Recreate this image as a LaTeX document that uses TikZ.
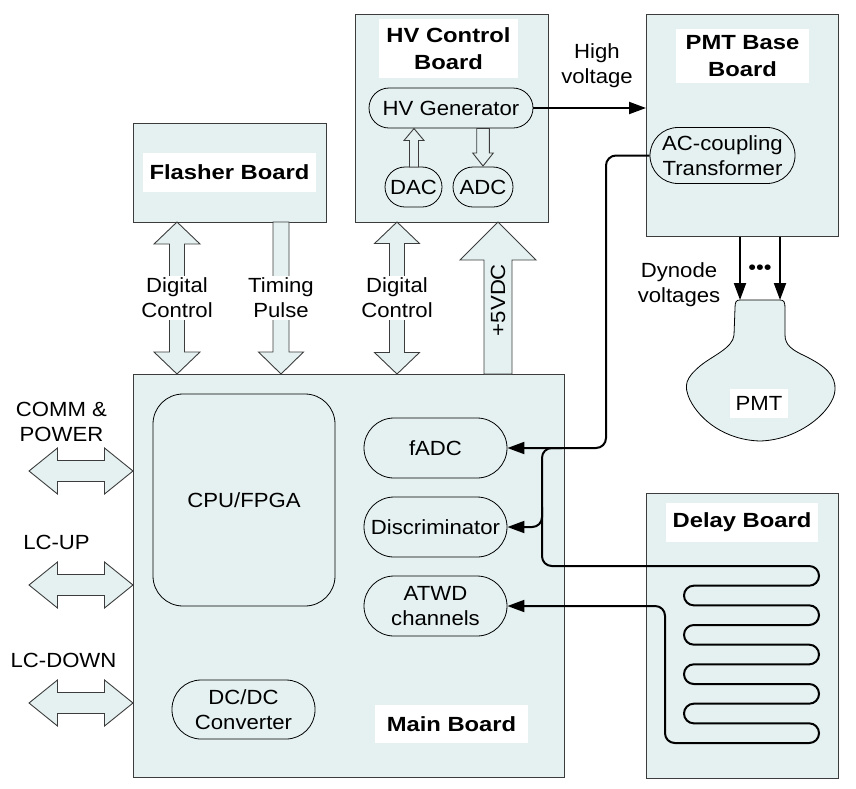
\documentclass[tikz,border=0pt]{standalone}
\usepackage{fontspec}
\setmainfont{Liberation Sans}[FakeStretch=1.08]
\newfontfamily\titlefont{Liberation Sans}[FakeStretch=1.16]
\usetikzlibrary{arrows.meta,calc}
\definecolor{boardfill}{RGB}{229,241,241}
\definecolor{edgegray}{RGB}{60,60,60}

% vertical double block arrow: x, ytop, ybottom, half shaft, half head, head length
\newcommand\blkvdouble[6]{%
\draw[blockarrow] (#1,#2) -- ({#1+#5},{#2+#6}) -- ({#1+#4},{#2+#6}) -- ({#1+#4},{#3-#6}) -- ({#1+#5},{#3-#6}) -- (#1,#3) -- ({#1-#5},{#3-#6}) -- ({#1-#4},{#3-#6}) -- ({#1-#4},{#2+#6}) -- ({#1-#5},{#2+#6}) -- cycle;}
% vertical single block arrow: x, ytail, ytip, half shaft, half head, signed head length
\newcommand\blkvsingle[6]{%
\draw[blockarrow] ({#1-#4},#2) -- ({#1-#4},{#3-(#6)}) -- ({#1-#5},{#3-(#6)}) -- (#1,#3) -- ({#1+#5},{#3-(#6)}) -- ({#1+#4},{#3-(#6)}) -- ({#1+#4},#2) -- cycle;}
% horizontal double block arrow: y, xleft, xright, half shaft, half head, head length
\newcommand\blkhdouble[6]{%
\draw[blockarrow] (#2,#1) -- ({#2+#6},{#1-#5}) -- ({#2+#6},{#1-#4}) -- ({#3-#6},{#1-#4}) -- ({#3-#6},{#1-#5}) -- (#3,#1) -- ({#3-#6},{#1+#5}) -- ({#3-#6},{#1+#4}) -- ({#2+#6},{#1+#4}) -- ({#2+#6},{#1+#5}) -- cycle;}

\begin{document}
\begin{tikzpicture}[x=1pt,y=-1pt,
  every node/.style={font=\fontsize{20.5}{25}\selectfont, align=center, inner sep=0pt},
  board/.style={draw=edgegray, line width=1.2pt, fill=boardfill, anchor=north west, rectangle},
  boardtitle/.style={fill=white, font=\titlefont\fontsize{20.5}{27}\selectfont\bfseries},
  unit/.style={draw=black, line width=0.8pt, fill=boardfill, rectangle},
  blockarrow/.style={draw=edgegray, line width=0.9pt, fill=boardfill, line join=miter},
  sig/.style={draw=black, line width=2pt},
  tip/.style={-{Triangle[length=17pt,width=12pt]}},
  lbl/.style={fill=white, inner sep=2pt}
]
\useasboundingbox (0,0) rectangle (856,788);

% ---- boards ----
\node[board, minimum width=431pt, minimum height=403pt] (main) at (133,374) {};
\node[board, minimum width=193pt, minimum height=99pt] (flasher) at (133,123) {};
\node[board, minimum width=193pt, minimum height=208pt] (hv) at (355,14) {};
\node[board, minimum width=192pt, minimum height=222pt] (pmtbase) at (646,14) {};
\node[board, minimum width=192pt, minimum height=285pt] (delay) at (646,493) {};

% ---- board titles ----
\node[boardtitle, minimum width=173pt, minimum height=39pt] (flashertitle) at (229.5,172.5) {Flasher Board};
\node[boardtitle, minimum width=139pt, minimum height=59pt] (hvtitle) at (448.5,48.5) {HV Control\\Board};
\node[boardtitle, minimum width=133pt, minimum height=54pt] (pmttitle) at (742.5,56) {PMT Base\\Board};
\node[boardtitle, minimum width=152pt, minimum height=39pt] (delaytitle) at (742,522.5) {Delay Board};
\node[boardtitle, minimum width=153pt, minimum height=38pt] (maintitle) at (451.5,724) {Main Board};

% ---- units ----
\node[unit, rounded corners=20pt, minimum width=164pt, minimum height=40pt] (hvgen) at (451,108) {HV Generator};
\node[unit, rounded corners=20pt, minimum width=57pt, minimum height=40pt] (dac) at (413.5,187) {DAC};
\node[unit, rounded corners=20pt, minimum width=60pt, minimum height=40pt] (adc) at (483,187) {ADC};
\node[unit, rounded corners=28pt, minimum width=145pt, minimum height=56pt] (ac) at (722.5,155.5) {AC-coupling\\Transformer};
\node[unit, rounded corners=30pt, minimum width=143pt, minimum height=60pt] (fadc) at (435.5,448) {fADC};
\node[unit, rounded corners=30pt, minimum width=143pt, minimum height=60pt] (disc) at (435.5,527) {Discriminator};
\node[unit, rounded corners=30pt, minimum width=143pt, minimum height=60pt] (atwd) at (435.5,606) {ATWD\\channels};
\node[unit, rounded corners=29pt, minimum width=143pt, minimum height=59pt] (dcdc) at (243.5,709.5) {DC/DC\\Converter};
\node[unit, rounded corners=30pt, minimum width=182pt, minimum height=212pt] (cpu) at (244,500) {CPU/FPGA};

% ---- small hollow arrows in HV board ----
\blkvsingle{414}{167}{128.5}{4.5}{10}{-12}
\blkvsingle{483}{128.5}{166}{6.3}{10.3}{13}

% ---- block arrows between boards ----
\blkvdouble{177}{222}{374}{7.5}{23}{22}
\blkvsingle{281}{222}{374}{8}{22.5}{22}
\blkvdouble{397}{222}{374}{7.5}{22.5}{21.5}
\blkvsingle{498}{374}{222}{14}{38}{-38}
\blkhdouble{471}{29}{133}{10.5}{23}{28.5}
\blkhdouble{585}{29}{133}{10.5}{23}{28.5}
\blkhdouble{703}{29}{133}{10.5}{23}{28.5}

% ---- arrow labels ----
\node[lbl] (dc1) at (177,298) {Digital\\Control};
\node[lbl] (tp) at (281,298) {Timing\\Pulse};
\node[lbl] (dc2) at (397,298) {Digital\\Control};
\node[rotate=90] (vdc) at (498,300) {+5VDC};
\node (comm) at (61.5,422) {COMM \&\\POWER};
\node (lcup) at (56.5,542) {LC-UP};
\node (lcdown) at (63.5,660) {LC-DOWN};
\node (hvlbl) at (597,66) {High\\voltage};
\node (dynlbl) at (679,285) {Dynode\\voltages};
\node (dots) at (760,270) {•••};

% ---- PMT ----
\draw[draw=black, line width=0.8pt, fill=boardfill]
  (740,300) -- (780,300)
  .. controls (784,300) and (785,302) .. (785,308)
  -- (785,335)
  .. controls (785,345) and (792,350) .. (805,356)
  .. controls (825,366) and (836,375) .. (835,390)
  .. controls (834,410) and (800,440) .. (760,441)
  .. controls (725,440) and (700,420) .. (690,400)
  .. controls (683,385) and (686,378) .. (700,366)
  .. controls (712,356) and (733,348) .. (734,335)
  -- (735,308)
  .. controls (735,302) and (736,300) .. (740,300) -- cycle;
\node[fill=white, minimum width=58pt, minimum height=29pt] (pmt) at (759,403.5) {PMT};
\coordinate (dyn1) at (740,300);
\coordinate (dyn2) at (780,300);

% ---- signal connectors ----
\draw[sig,tip] (hvgen.east) -- (hvgen.east -| pmtbase.west);
\draw[sig,tip] (pmtbase.south -| dyn1) -- (dyn1);
\draw[sig,tip] (pmtbase.south -| dyn2) -- (dyn2);

\coordinate (riser) at (606,300);
\coordinate (bus) at (542,500);
\draw[sig,tip,rounded corners=10pt] (ac.west) -| (fadc.east -| riser) -- (fadc.east);
\draw[sig,tip,rounded corners=9.8pt] (bus |- 0,507) |- (disc.east);
\draw[sig,tip,rounded corners=9.8pt] (562,448) -| (542,566)
  -- (819,566) -- (819,585.67) -- (684,585.67) -- (684,605.33)
  -- (819,605.33) -- (819,625) -- (684,625) -- (684,644.67)
  -- (819,644.67) -- (819,664.33) -- (684,664.33) -- (684,684)
  -- (819,684) -- (819,703.67) -- (684,703.67) -- (684,723.33)
  -- (819,723.33) -- (819,743) -- (665,743) |- (atwd.east);
\end{tikzpicture}
\end{document}
